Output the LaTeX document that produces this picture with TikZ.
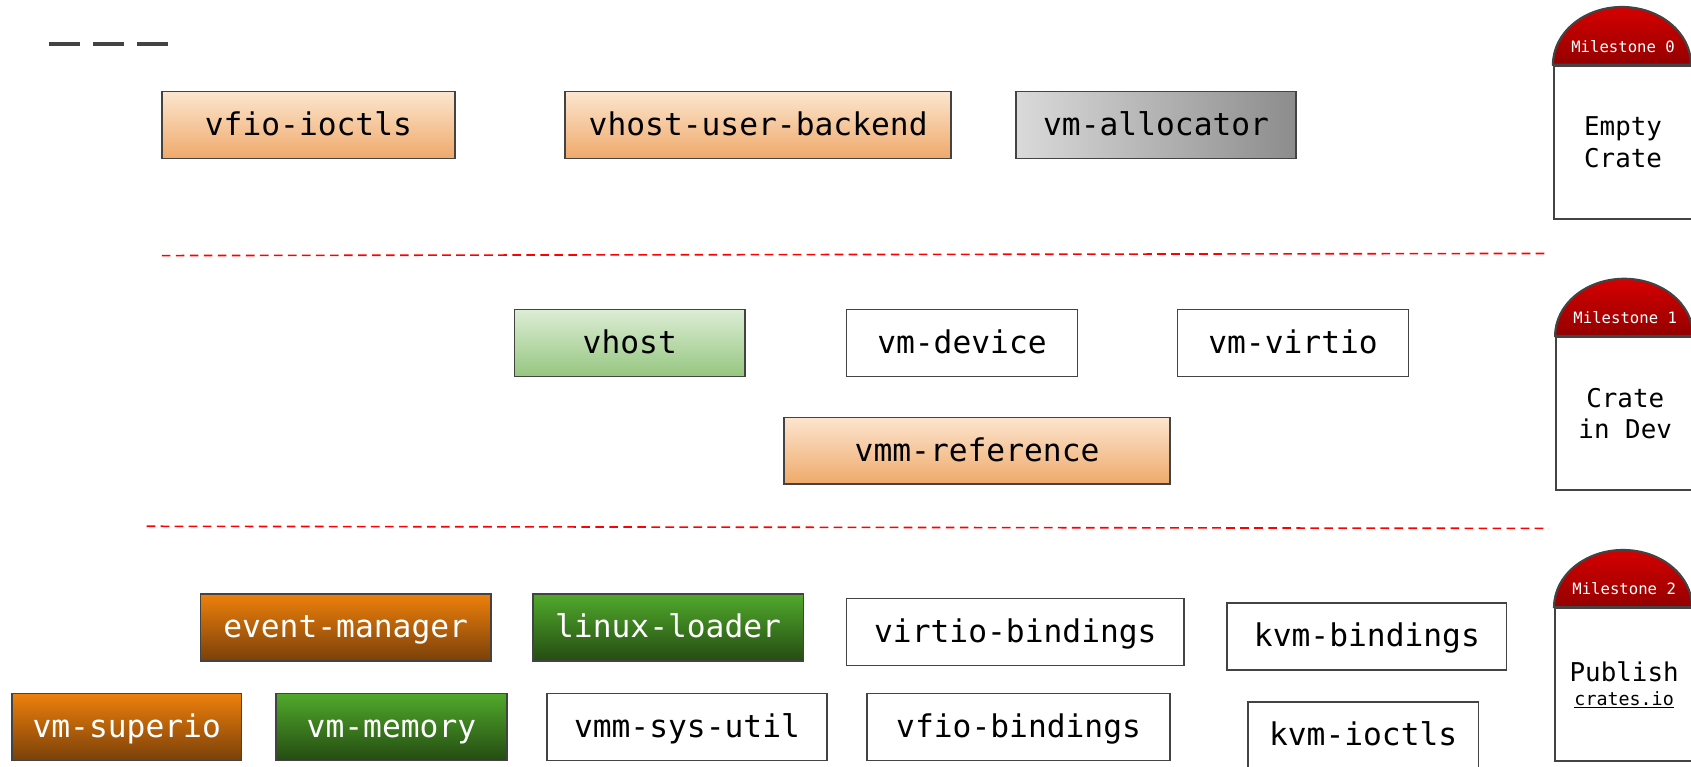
\documentclass[tikz,border=0pt]{standalone}
\usepackage{fontspec}
\setmonofont{DejaVu Sans Mono}
\usepackage{tikz}

\definecolor{boxline}{HTML}{434343}
\definecolor{peachtop}{HTML}{FCE5CF}
\definecolor{peachbot}{HTML}{EFA96A}
\definecolor{mintop}{HTML}{DCEDD5}
\definecolor{minbot}{HTML}{96C680}
\definecolor{rusttop}{HTML}{EE800B}
\definecolor{rustbot}{HTML}{7A4009}
\definecolor{leaftop}{HTML}{50A92B}
\definecolor{leafbot}{HTML}{254C12}
\definecolor{domtop}{HTML}{D60000}
\definecolor{dombot}{HTML}{930000}

\begin{document}
\begin{tikzpicture}[x=1pt, y=-1pt,
  crate/.style={draw=boxline, line width=1.5pt, minimum height=62pt, inner sep=0pt, text height=23pt, text depth=4pt, font=\ttfamily\fontsize{29}{32}\selectfont},
  ondev/.style={crate, top color=peachtop, bottom color=peachbot},
  empty/.style={crate, left color=gray!29, right color=gray!90},
  merged/.style={crate, top color=mintop, bottom color=minbot},
  pubrust/.style={crate, text=white, top color=rusttop, bottom color=rustbot},
  publeaf/.style={crate, text=white, top color=leaftop, bottom color=leafbot},
  stage/.style={draw=boxline, line width=2pt, fill=white, minimum width=128pt, minimum height=142pt, inner sep=0pt, align=center, font=\ttfamily\fontsize{24}{29}\selectfont},
  dome/.style={draw=boxline, line width=2pt, top color=domtop, bottom color=dombot},
  stagetitle/.style={text=white, inner sep=0pt, font=\ttfamily\fontsize{14.5}{17}\selectfont},
  border/.style={red, line width=1.5pt, dash pattern=on 8pt off 5pt}]
  \useasboundingbox (0,0) rectangle (1568,711);

  \draw[boxline, line width=4pt, dash pattern=on 29pt off 12pt] (45,41) -- (157,41);

  \node[ondev, minimum width=272pt] (vfioioctls) at (286,116) {vfio-ioctls};
  \node[ondev, minimum width=358pt] (vhostuser) at (703,116) {vhost-user-backend};
  \node[empty, minimum width=260pt] (vmalloc) at (1072,116) {vm-allocator};

  \coordinate (b1w) at (150,237);
  \coordinate (b1e) at (1436,235);
  \draw[border] (b1w) -- (b1e);

  \node[merged, minimum width=214pt] (vhost) at (584,318) {vhost};
  \node[crate, minimum width=214pt] (vmdevice) at (892,318) {vm-device};
  \node[crate, minimum width=214pt] (vmvirtio) at (1199,318) {vm-virtio};
  \node[ondev, minimum width=358pt] (vmmref) at (906,418) {vmm-reference};

  \coordinate (b2w) at (136,488);
  \coordinate (b2e) at (1436,490);
  \draw[border] (b2w) -- (b2e);

  \node[pubrust, minimum width=269pt] (eventmgr) at (320.5,582) {event-manager};
  \node[publeaf, minimum width=251pt] (linuxloader) at (619.5,582) {linux-loader};
  \node[crate, minimum width=313pt] (virtiobind) at (941.5,586) {virtio-bindings};
  \node[crate, minimum width=259pt] (kvmbind) at (1267.5,590) {kvm-bindings};
  \node[pubrust, minimum width=213pt] (vmsuperio) at (117.5,674) {vm-superio};
  \node[publeaf, minimum width=214pt] (vmmemory) at (363,674) {vm-memory};
  \node[crate, minimum width=260pt] (vmmsysutil) at (637,674) {vmm-sys-util};
  \node[crate, minimum width=281pt] (vfiobind) at (944.5,674) {vfio-bindings};
  \node[crate, minimum width=214pt] (kvmioctls) at (1264,682) {kvm-ioctls};

  \node[stage] (ms0) at (1505,132) {Empty\\Crate};
  \path[dome] (ms0.north west) arc[start angle=180, end angle=0, x radius=64pt, y radius=53.5pt] -- cycle;
  \node[stagetitle] (ms0title) at ([yshift=17pt]ms0.north) {Milestone 0};

  \node[stage] (ms1) at (1507,383.5) {Crate\\in Dev};
  \path[dome] (ms1.north west) arc[start angle=180, end angle=0, x radius=64pt, y radius=53pt] -- cycle;
  \node[stagetitle] (ms1title) at ([yshift=17pt]ms1.north) {Milestone 1};

  \node[stage] (ms2) at (1506,635) {Publish\\[-6pt]{\fontsize{17}{20}\selectfont\underline{crates.io}}};
  \path[dome] (ms2.north west) arc[start angle=180, end angle=0, x radius=64pt, y radius=53pt] -- cycle;
  \node[stagetitle] (ms2title) at ([yshift=17pt]ms2.north) {Milestone 2};
\end{tikzpicture}
\end{document}
